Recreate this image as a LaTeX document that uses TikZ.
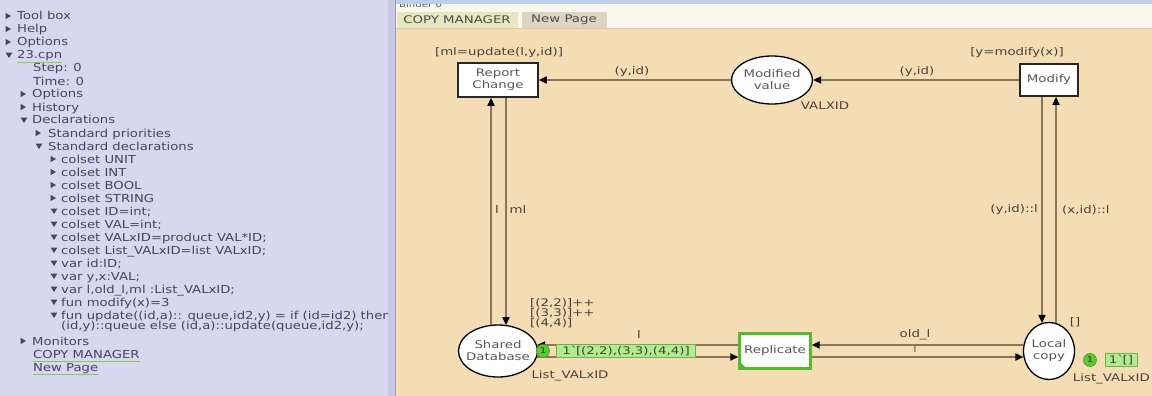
\documentclass[tikz,border=0pt]{standalone}
\usepackage{fontspec}
\setmainfont[FakeStretch=1.27]{DejaVu Sans}
\newfontfamily\panelfont[FakeStretch=1.2]{DejaVu Sans}
\usetikzlibrary{shapes.geometric,arrows.meta,calc}
\definecolor{panel}{HTML}{D7D7EF}
\definecolor{panelsep}{HTML}{C9C9E3}
\definecolor{sepline}{HTML}{9C9CBC}
\definecolor{paneltext}{HTML}{454562}
\definecolor{canvasbg}{HTML}{F4DDB4}
\definecolor{topstrip}{HTML}{BCD0EA}
\definecolor{tabrow}{HTML}{FAF7EE}
\definecolor{tabcm}{HTML}{E8E6C0}
\definecolor{tabnp}{HTML}{DCD5C2}
\definecolor{tabline}{HTML}{D8CCB0}
\definecolor{arccol}{HTML}{8A7558}
\definecolor{labcol}{HTML}{4A4236}
\definecolor{nodetext}{HTML}{55555E}
\definecolor{tokgreen}{HTML}{5EC832}
\definecolor{tokborder}{HTML}{3E9A20}
\definecolor{markgreen}{HTML}{B0EC90}
\definecolor{markborder}{HTML}{6EB04C}
\definecolor{transgreen}{HTML}{58B82C}
\definecolor{ulgreen}{HTML}{8CC850}
\newcommand\uif{\fontsize{10.5}{12}\selectfont}
\newcommand\pnf{\panelfont\fontsize{11}{12}\selectfont}
\newcommand\smf{\fontsize{8}{9}\selectfont}
\begin{document}
\begin{tikzpicture}[x=1pt,y=-1pt,
  cpnplace/.style={ellipse, draw=black, line width=1.3pt, fill=white, inner sep=0pt},
  nodetxt/.style={font=\uif, text=nodetext, align=center, inner sep=0pt},
  cpntrans/.style={rectangle, draw=black!85, line width=1.6pt, fill=white, inner sep=0pt, font=\uif, text=nodetext, align=center},
  arcline/.style={draw=arccol, line width=1.7pt, -{Triangle[length=8pt,width=7pt,color=black]}},
  lab/.style={font=\uif, text=labcol, inner sep=0pt},
  tokdot/.style={circle, fill=tokgreen, draw=tokborder, line width=0.6pt, minimum size=13pt, inner sep=0pt, font=\smf, text=black!80},
  markbox/.style={rectangle, fill=markgreen, draw=markborder, line width=0.8pt, inner sep=0pt, minimum height=13pt, font=\uif, text=labcol},
  ptext/.style={font=\pnf, text=paneltext, anchor=base west, inner sep=0pt},
  tabtext/.style={font=\uif, text=black!70, inner sep=0pt}
]
\useasboundingbox (0,0) rectangle (1152,396);
% ---------- backgrounds ----------
\fill[panel] (0,0) rectangle (390,396);
\fill[panelsep] (388,0) rectangle (396,396);
\fill[tabrow] (396,0) rectangle (1152,28);
\node[anchor=base west, font=\smf, text=gray!70!black, inner sep=0pt] (binder) at (399,8) {Binder 0};
\fill[topstrip] (396,0) rectangle (1152,4.5);
\fill[tabcm] (397,12) rectangle (518,28);
\fill[tabnp] (522,12) rectangle (607,28);
\node[tabtext] (tabA) at (457,20) {COPY MANAGER};
\node[tabtext] (tabB) at (564,20) {New Page};
\fill[canvasbg] (396,28) rectangle (1152,396);
\draw[tabline, line width=0.8pt] (396,28) -- (1152,28);
\draw[sepline, line width=1pt] (395.5,0) -- (395.5,396);
% ---------- left panel ----------
\begin{scope}
\clip (0,0) rectangle (387,396);
\foreach \i/\tx/\t [count=\c] in {
  0/17/{Tool box}, 1/17/{Help}, 2/17/{Options}, 3/17/{23.cpn},
  4/33/{Step: 0}, 5/33/{Time: 0}, 6/32/{Options}, 7/32/{History},
  8/32/{Declarations}, 9/48/{Standard priorities}, 10/48/{Standard declarations},
  11/61/{colset UNIT}, 12/61/{colset INT}, 13/61/{colset BOOL}, 14/61/{colset STRING},
  15/61/{colset ID=int;}, 16/61/{colset VAL=int;}, 17/61/{colset VALxID=product VAL*ID;},
  18/61/{colset List\_VALxID=list VALxID;}, 19/61/{var id:ID;}, 20/61/{var y,x:VAL;},
  21/61/{var l,old\_l,ml :List\_VALxID;}, 22/61/{fun modify(x)=3},
  23/61/{fun update((id,a):: queue,id2,y) = if (id=id2) then},
  23.82/61/{(id,y)::queue else (id,a)::update(queue,id2,y);},
  25/32/{Monitors}, 26/33/{COPY MANAGER}, 27/33/{New Page}}
  { \node[ptext] (lp\c) at ({\tx},{20+13*\i}) {\t}; }
\foreach \i/\ax in {0/8,1/8,2/8,6/23,7/23,9/38,11/53,12/53,13/53,14/53,25/23}
  { \fill[paneltext] ({\ax-2.5},{16+13*\i-3.2}) -- ({\ax+3},{16+13*\i}) -- ({\ax-2.5},{16+13*\i+3.2}) -- cycle; }
\foreach \i/\ax in {3/9,8/24,10/39,15/54,16/54,17/54,18/54,19/54,20/54,21/54,22/54,23/54}
  { \fill[paneltext] ({\ax-3.3},{16+13*\i-2.3}) -- ({\ax+3.3},{16+13*\i-2.3}) -- ({\ax},{16+13*\i+3}) -- cycle; }
\end{scope}
\draw[ulgreen, line width=1.2pt] ($(lp4.base west)+(0,3.5)$) -- ($(lp4.base east)+(0,3.5)$);
\draw[ulgreen, line width=1.2pt] ($(lp27.base west)+(0,3.5)$) -- ($(lp27.base east)+(0,3.5)$);
\draw[ulgreen, line width=1.2pt] ($(lp28.base west)+(0,3.5)$) -- ($(lp28.base east)+(0,3.5)$);
% ---------- net nodes ----------
\node[cpntrans, minimum width=80pt, minimum height=34pt] (rc) at (498,80) {Report\\Change};
\node[cpnplace, minimum width=81pt, minimum height=48pt] (mv) at (772,80) {};
\node[nodetxt] (mvT) at (mv.center) {Modified\\value};
\node[cpntrans, minimum width=58pt, minimum height=32pt] (mod) at (1049,80) {Modify};
\node[cpnplace, minimum width=79pt, minimum height=52pt] (sd) at (498,351) {};
\node[nodetxt] (sdT) at (sd.center) {Shared\\Database};
\node[cpntrans, draw=transgreen, line width=2.4pt, minimum width=71pt, minimum height=35pt] (rep) at (775,351) {Replicate};
\fill[transgreen] ($(rep.south west)+(1.2,-1.2)$) -- ++(7,0) -- ++(-7,-7) -- cycle;
\node[cpnplace, minimum width=51pt, minimum height=57pt] (lc) at (1049,351) {};
\node[nodetxt] (lcT) at (lc.center) {Local\\copy};
% ---------- arcs ----------
\draw[arcline] (mod.west) -- (mv.east);
\draw[arcline] (mv.west) -- (rc.east);
\draw[arcline] ($(sd.north)+(-7,0.6)$) -- ($(rc.south)+(-7,0)$);
\draw[arcline] ($(rc.south)+(8,0)$) -- ($(sd.north)+(8,0.8)$);
\draw[arcline] ($(mod.south)+(-7,0)$) -- ($(lc.north)+(-7,1.1)$);
\draw[arcline] ($(lc.north)+(7,1.1)$) -- ($(mod.south)+(7,0)$);
\draw[arcline] ($(rep.west)+(0,-6)$) -- ($(sd.east)+(-1.1,-6)$);
\draw[arcline] ($(sd.east)+(-1.1,6)$) -- ($(rep.west)+(0,6)$);
\draw[arcline] ($(lc.west)+(0.6,-6)$) -- ($(rep.east)+(0,-6)$);
\draw[arcline] ($(rep.east)+(0,6)$) -- ($(lc.west)+(0.6,6)$);
% ---------- inscriptions ----------
\node[lab] (g1) at (499,53) {[ml=update(l,y,id)]};
\node[lab] (g2) at (1017,53) {[y=modify(x)]};
\node[lab] (a1) at (632,72) {(y,id)};
\node[lab] (a2) at (917,72) {(y,id)};
\node[lab] (cs1) at (825,106) {VALXID};
\node[lab] (a3) at (497,210) {l};
\node[lab] (a4) at (518,210) {ml};
\node[lab, anchor=east] (a5) at (1038,210) {(y,id)::l};
\node[lab, anchor=west] (a6) at (1062,210) {(x,id)::l};
\node[lab] (a7) at (639,335) {l};
\node[lab] (a8) at (915,335) {old\_l};
\node[lab, font=\smf] (a9) at (915,349) {l};
\node[lab, anchor=north west, align=left, font=\fontsize{10.5}{10}\selectfont] (im1) at (530,298) {{[(2,2)]++}\\{[(3,3)]++}\\{[(4,4)]}};
\node[markbox, minimum width=139pt] (m1) at (626,351) {1\textasciigrave[(2,2),(3,3),(4,4)]};
\node[tokdot] (t1) at (543,351) {1};
\node[lab] (cs2) at (570,376) {List\_VALxID};
\node[lab] (im2) at (1075,322) {[]};
\node[tokdot] (t2) at (1090,360) {1};
\node[markbox, minimum width=32pt] (m2) at (1121,360) {1\textasciigrave[]};
\node[lab, anchor=east] (cs3) at (1150,379) {List\_VALxID};
\end{tikzpicture}
\end{document}
